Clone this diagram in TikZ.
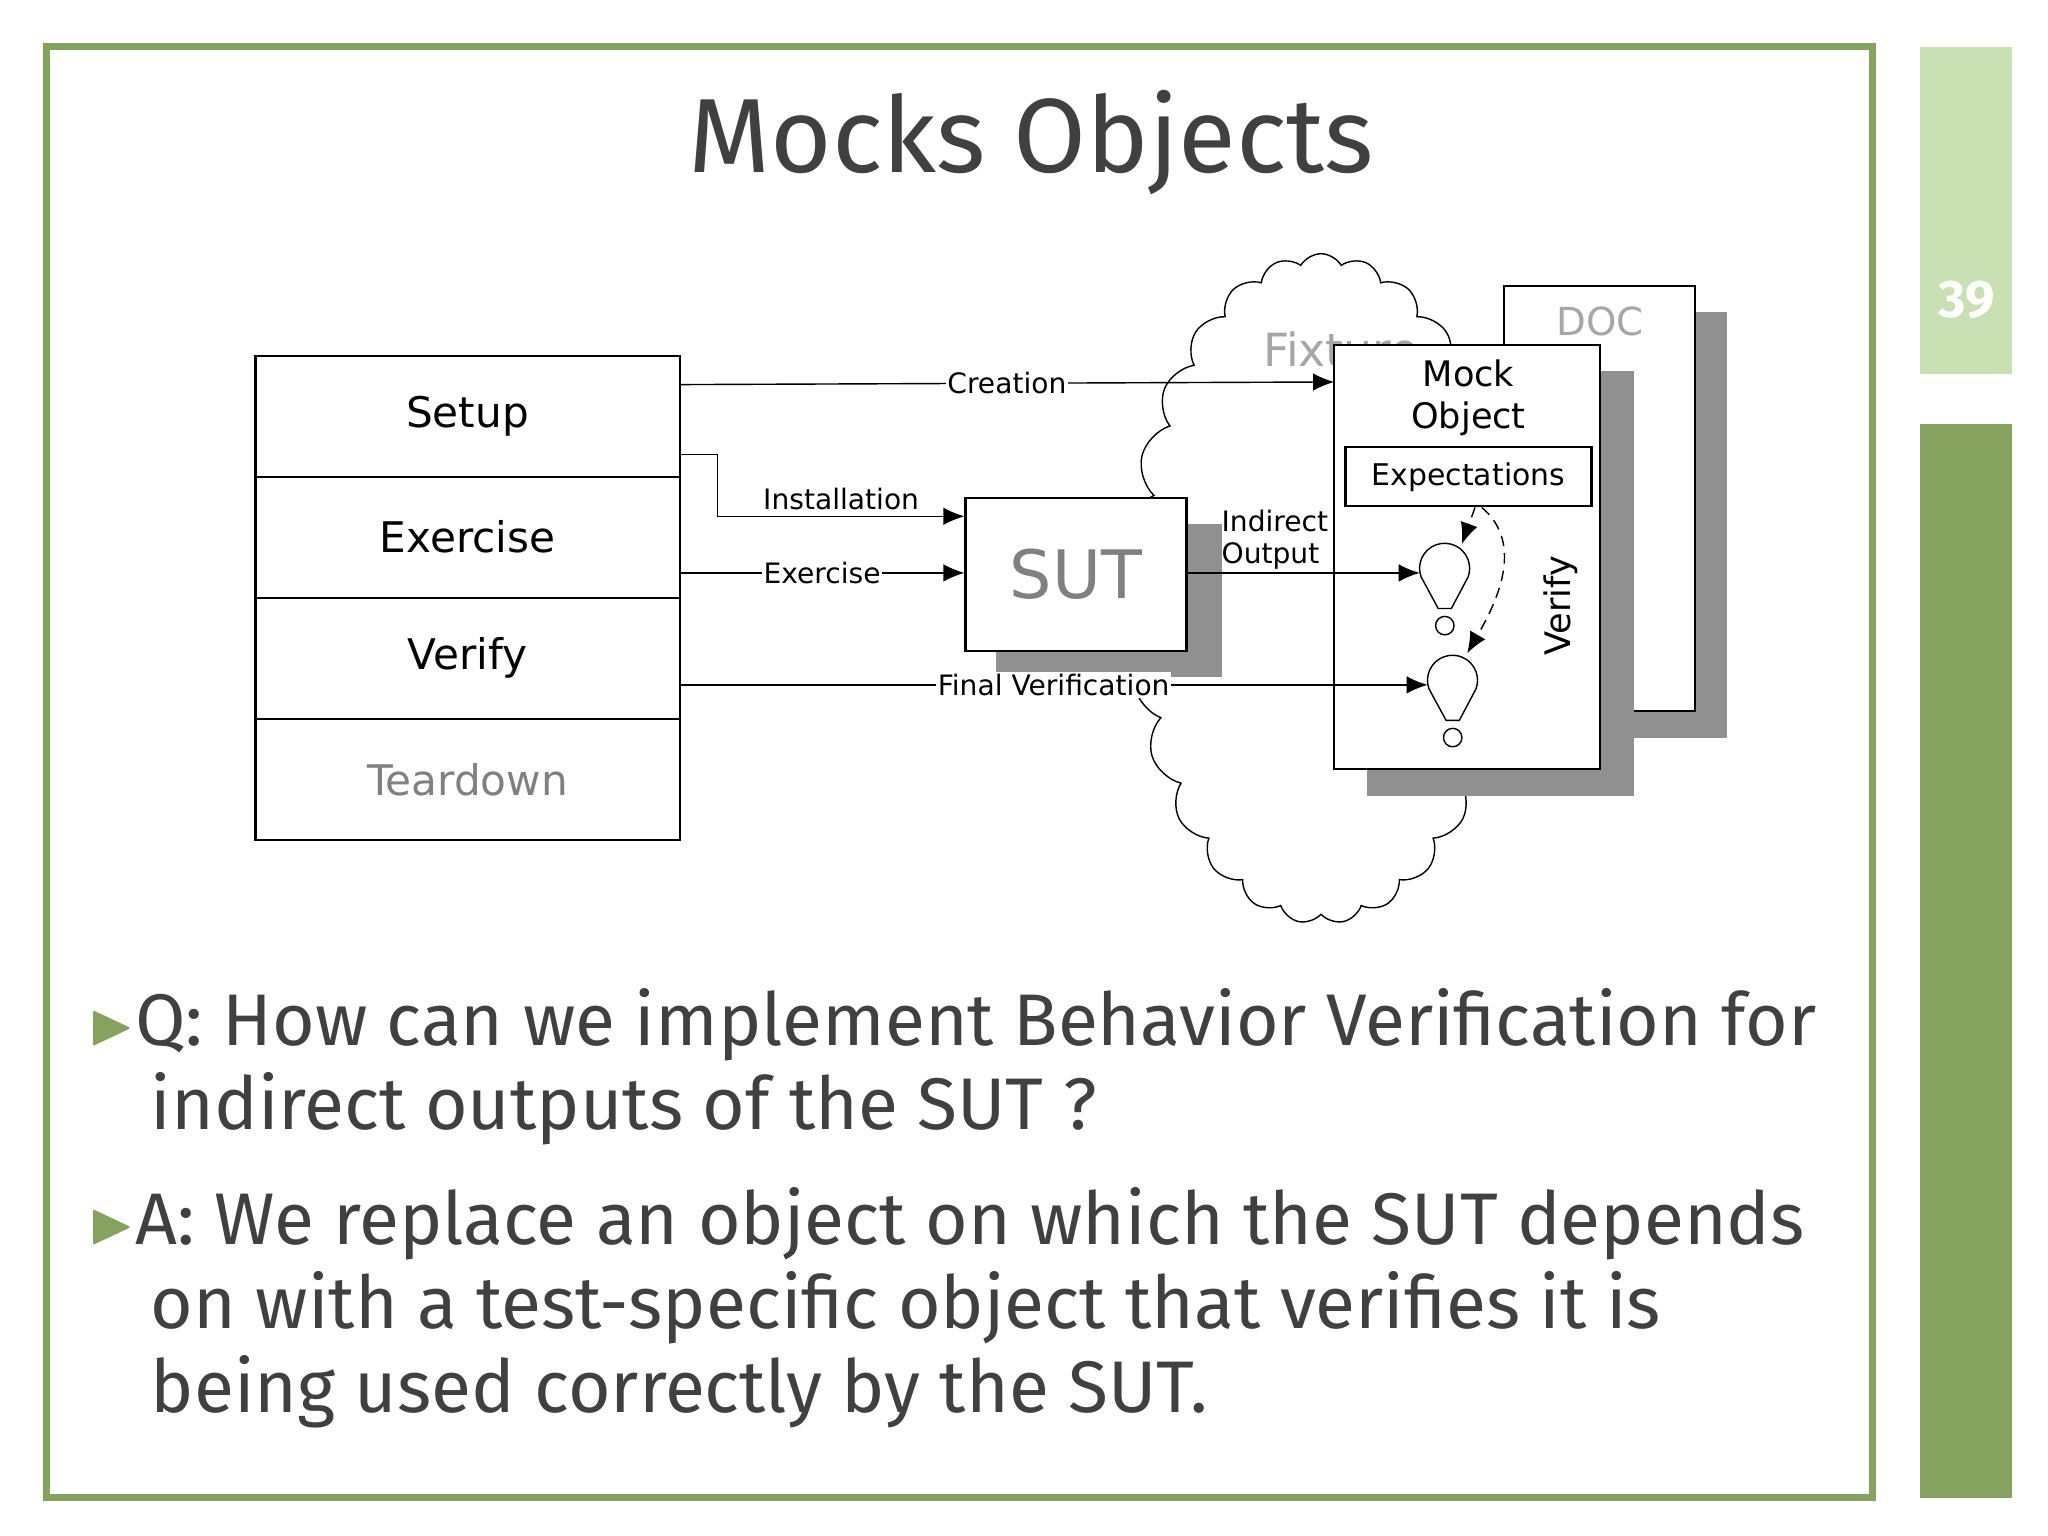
\documentclass[tikz,border=0pt]{standalone}
\usepackage{amssymb}
\usepackage{fontspec}
\setmainfont{Fira Sans}
\newfontfamily\diagfont{DejaVu Sans}
\usetikzlibrary{positioning,shapes.symbols,arrows.meta}
\definecolor{olive}{HTML}{85A35F}
\definecolor{palegreen}{HTML}{C9E0B2}
\definecolor{slategray}{HTML}{404040}
\definecolor{shade}{HTML}{909090}
\newcommand{\pointer}{\textcolor{olive}{\raisebox{0.05ex}{\fontsize{17}{17}\selectfont$\blacktriangleright$}}}

\begin{document}
\begin{tikzpicture}[x={(0.01317cm,0)}, y={(0,-0.01317cm)},
  phase/.style={draw, semithick, outer sep=0pt, minimum width=4.24cm, minimum height=1.21cm, font=\diagfont\fontsize{12}{14}\selectfont},
  box/.style={draw, semithick, fill=white},
  shadow/.style={fill=shade},
  flow/.style={-{Latex[length=6pt,width=5pt]}, thin},
  tag/.style={font=\diagfont\fontsize{8}{9}\selectfont, fill=white, inner sep=0.5pt},
  check/.style={-{Latex[length=6pt,width=5pt]}, thin, densely dashed},
  bullet/.style={anchor=west, align=left, text=slategray, font=\fontsize{20.8}{24}\selectfont}]

  \useasboundingbox (0,0) rectangle (1555,1166);

  % Frame and side bars
  \draw[olive, line width=2pt] (35,35) rectangle (1422,1137);
  \fill[palegreen] (1458,36) rectangle (1528,284);
  \fill[olive] (1458,322) rectangle (1528,1137);
  \node[text=white, font=\bfseries\fontsize{15}{18}\selectfont] (page) at (1493,228) {39};

  % Title
  \node[text=slategray, font=\fontsize{30}{34}\selectfont] (title) at (783,108) {Mocks Objects};

  % Fixture cloud
  \node[cloud, draw, thin, cloud puffs=27, cloud puff arc=120, aspect=0.6,
        minimum width=3.9cm, minimum height=6.7cm] (fixture) at (1003,447) {};
  \node[text=gray!70, font=\diagfont\fontsize{13}{15}\selectfont] (fixlabel) at (1018,265) {Fixture};

  % Test phases
  \node[phase]               (setup)    at (355,316) {Setup};
  \node[phase, below=0pt of setup]    (exercise) {Exercise};
  \node[phase, below=0pt of exercise] (verify)   {Verify};
  \node[phase, below=0pt of verify, text=gray] (teardown) {Teardown};

  % SUT
  \fill[shadow] (756,398) rectangle (928,514);
  \node[box, minimum width=2.21cm, minimum height=1.53cm, text=gray,
        font=\diagfont\fontsize{19}{22}\selectfont] (sut) at (817,436) {SUT};

  % DOC and mock object
  \fill[shadow] (1165,237) rectangle (1311,560);
  \draw[box] (1142,217) rectangle (1287,540);
  \node[text=gray!70, font=\diagfont\fontsize{11}{13}\selectfont] (doc) at (1215,244) {DOC};
  \fill[shadow] (1038,282) rectangle (1241,604);
  \draw[box] (1013,262) rectangle (1215,584);
  \coordinate (mockwest) at (1013,290);
  \node[align=center, font=\diagfont\fontsize{10}{12}\selectfont] (mock) at (1115,302) {Mock\\Object};
  \node[draw, semithick, minimum width=2.46cm, minimum height=0.59cm,
        font=\diagfont\fontsize{8.5}{10}\selectfont] (expect) at (1115,362) {Expectations};
  \node[rotate=90, font=\diagfont\fontsize{10}{12}\selectfont] (verifylbl) at (1185,460) {Verify};

  % Expectation bulbs
  \draw[thin] (1092,462) -- (1079,438) arc (160:380:19) -- (1102,462) -- cycle;
  \draw[thin] (1097,475) circle (7);
  \draw[thin] (1098,547) -- (1085,523) arc (160:380:19) -- (1108,547) -- cycle;
  \draw[thin] (1103,560) circle (7);
  \coordinate (bulb1) at (1078,435);
  \coordinate (bulb2) at (1084,520);
  \coordinate (bulb1top) at (1110,413);
  \coordinate (bulb2top) at (1114,496);

  % Flows
  \draw[flow] (setup.east |- 0,292) -- node[tag] {Creation} (mockwest);
  \draw[flow] (setup.east |- 0,345) -- (545,345) |- node[tag, pos=0.75, above=1pt] {Installation} (sut.west |- 0,392);
  \draw[flow] (exercise.east |- 0,435) -- node[tag] {Exercise} (sut.west |- 0,435);
  \draw[flow] (sut.east |- 0,435) -- (bulb1);
  \node[tag, align=left, fill=none] (indirect) at (968,410) {Indirect\\Output};
  \draw[flow] (verify.east |- 0,520) -- node[tag, pos=0.5] {Final Verification} (bulb2);
  \draw[check] (expect.south -| 1120,0) -- (bulb1top);
  \draw[check] (expect.south -| 1125,0) to[out=-40, in=60] (bulb2top);

  % Questions
  \node[bullet] (q) at (58,810) {\pointer Q: How can we implement Behavior Verification for\\
    \hspace*{0.62cm}indirect outputs of the SUT ?};
  \node[bullet] (a) at (58,993) {\pointer A: We replace an object on which the SUT depends\\
    \hspace*{0.62cm}on with a test-specific object that verifies it is\\
    \hspace*{0.62cm}being used correctly by the SUT.};
\end{tikzpicture}
\end{document}
